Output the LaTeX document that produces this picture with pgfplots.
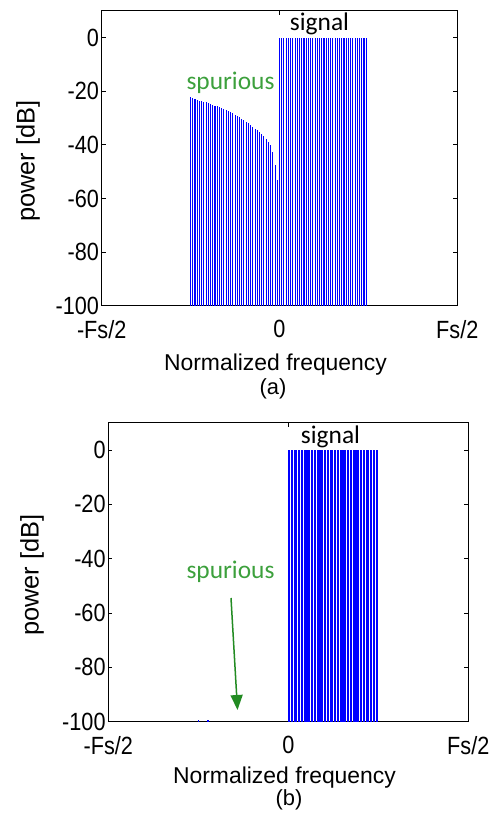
\documentclass[border=0pt]{standalone}
\usepackage{pgfplots}
\pgfplotsset{compat=1.18}
\usetikzlibrary{arrows.meta}
\usepackage{fontspec}
\setmainfont{Liberation Sans}
\newfontfamily\calibri{Carlito}
\newfontfamily\tickfont[FakeStretch=0.87]{Liberation Sans}
\definecolor{spurgreen}{RGB}{60,160,60}
\definecolor{arrowgreen}{RGB}{34,139,34}
\definecolor{combblue}{RGB}{0,0,255}
% power values in dB are stored as read; the stems are drawn up from the
% -100 dB floor, so the axis runs in (dB + 100) and is labelled in dB
\pgfplotsset{
  specaxis/.style={
    scale only axis,
    xmin=-0.5, xmax=0.5, ymin=0, ymax=110,
    xtick={-0.5,0,0.5}, xticklabels={-Fs/2,0,Fs/2},
    ytick={0,20,40,60,80,100}, yticklabels={-100,-80,-60,-40,-20,0},
    tick align=inside, major tick length=4bp,
    axis line style={line width=0.9bp},
    every tick/.style={black, line width=0.6bp},
    tick label style={font=\tickfont\fontsize{25}{27}\selectfont},
    yticklabel style={inner sep=2.5bp},
    xticklabel style={yshift=-11bp},
    /pgf/number format/assume math mode=true,
  },
  comb/.style={ycomb, draw=combblue, line width=1.1bp, mark=none},
}
\begin{document}
\begin{tikzpicture}
\path[use as bounding box] (0,0) rectangle (498bp,-814bp);
% ---------- (a) ----------
\begin{axis}[specaxis, at={(101.7bp,-305.7bp)}, anchor=south west,
  width=355.6bp, height=295bp]
\addplot[comb] table[x=f, y expr=\thisrow{dB}+100, row sep=\\] {
f dB\\
-0.25 -22.3\\ -0.24375 -22.5\\ -0.2375 -22.9\\ -0.23125 -23.2\\ -0.225 -23.5\\
-0.21875 -23.7\\ -0.2125 -24.0\\ -0.20625 -24.2\\ -0.2 -24.5\\ -0.19375 -24.8\\
-0.1875 -25.1\\ -0.18125 -25.4\\ -0.175 -25.7\\ -0.16875 -26.0\\ -0.1625 -26.3\\
-0.15625 -26.6\\ -0.15 -27.0\\ -0.14375 -27.4\\ -0.1375 -27.9\\ -0.13125 -28.3\\
-0.125 -28.8\\ -0.11875 -29.3\\ -0.1125 -29.8\\ -0.10625 -30.3\\ -0.1 -30.8\\
-0.09375 -31.4\\ -0.0875 -32.0\\ -0.08125 -32.6\\ -0.075 -33.3\\ -0.06875 -34.0\\
-0.0625 -34.6\\ -0.05625 -35.3\\ -0.05 -36.0\\ -0.04375 -36.8\\ -0.0375 -37.7\\
-0.03125 -38.8\\ -0.025 -40.2\\ -0.01875 -42.8\\ -0.0125 -47.5\\ -0.00625 -53.3\\
};
\addplot[comb] table[x=f, y expr=\thisrow{dB}+100, row sep=\\] {
f dB\\
0 0\\ 0.00625 0\\ 0.0125 0\\ 0.01875 0\\ 0.025 0\\ 0.03125 0\\ 0.0375 0\\ 0.04375 0\\
0.05 0\\ 0.05625 0\\ 0.0625 0\\ 0.06875 0\\ 0.075 0\\ 0.08125 0\\ 0.0875 0\\ 0.09375 0\\
0.1 0\\ 0.10625 0\\ 0.1125 0\\ 0.11875 0\\ 0.125 0\\ 0.13125 0\\ 0.1375 0\\ 0.14375 0\\
0.15 0\\ 0.15625 0\\ 0.1625 0\\ 0.16875 0\\ 0.175 0\\ 0.18125 0\\ 0.1875 0\\ 0.19375 0\\
0.2 0\\ 0.20625 0\\ 0.2125 0\\ 0.21875 0\\ 0.225 0\\ 0.23125 0\\ 0.2375 0\\ 0.24375 0\\
};
\end{axis}
\node[anchor=base, font=\calibri\fontsize{25.5}{28}\selectfont] at (319.5bp,-30bp) {signal};
\node[anchor=base, text=spurgreen, font=\calibri\fontsize{25.5}{28}\selectfont] at (230.5bp,-89.3bp) {spurious};
\node[rotate=90, font=\fontsize{25.5}{28}\selectfont] at (28bp,-161bp) {power [dB]};
\node[anchor=base, font=\fontsize{23}{26}\selectfont] at (275.5bp,-370bp) {Normalized frequency};
\node[anchor=base, font=\fontsize{22}{24}\selectfont] at (273bp,-394bp) {(a)};
% ---------- (b) ----------
\begin{axis}[specaxis, at={(108.3bp,-721.7bp)}, anchor=south west,
  width=360bp, height=299bp]
\addplot[comb] table[x=f, y expr=\thisrow{dB}+100, row sep=\\] {
f dB\\
-0.25 -99.2\\ -0.223 -99.5\\
};
\addplot[comb] table[x=f, y expr=\thisrow{dB}+100, row sep=\\] {
f dB\\
0 0\\ 0.004 0\\ 0.008 0\\ 0.012 0\\ 0.016 0\\ 0.02 0\\ 0.024 0\\ 0.028 0\\
0.032 0\\ 0.036 0\\ 0.04 0\\ 0.044 0\\ 0.048 0\\ 0.052 0\\ 0.056 0\\ 0.06 0\\
0.064 0\\ 0.068 0\\ 0.072 0\\ 0.076 0\\ 0.08 0\\ 0.084 0\\ 0.088 0\\ 0.092 0\\
0.096 0\\ 0.1 0\\ 0.104 0\\ 0.108 0\\ 0.112 0\\ 0.116 0\\ 0.12 0\\ 0.124 0\\
0.128 0\\ 0.132 0\\ 0.136 0\\ 0.14 0\\ 0.144 0\\ 0.148 0\\ 0.152 0\\ 0.156 0\\
0.16 0\\ 0.164 0\\ 0.168 0\\ 0.172 0\\ 0.176 0\\ 0.18 0\\ 0.184 0\\ 0.188 0\\
0.192 0\\ 0.196 0\\ 0.2 0\\ 0.204 0\\ 0.208 0\\ 0.212 0\\ 0.216 0\\ 0.22 0\\
0.224 0\\ 0.228 0\\ 0.232 0\\ 0.236 0\\ 0.24 0\\ 0.244 0\\ 0.248 0\\
};
\end{axis}
\node[anchor=base, font=\calibri\fontsize{25.5}{28}\selectfont] at (330.5bp,-443.3bp) {signal};
\node[anchor=base, text=spurgreen, font=\calibri\fontsize{25.5}{28}\selectfont] at (230.5bp,-578.3bp) {spurious};
\draw[arrowgreen, line width=1.5bp, -{Triangle[width=12bp,length=15bp]}] (231bp,-598bp) -- (237.5bp,-710bp);
\node[rotate=90, font=\fontsize{25.5}{28}\selectfont] at (32bp,-575bp) {power [dB]};
\node[anchor=base, font=\fontsize{23}{26}\selectfont] at (284.5bp,-783.3bp) {Normalized frequency};
\node[anchor=base, font=\fontsize{22}{24}\selectfont] at (289bp,-805bp) {(b)};
\end{tikzpicture}
\end{document}
